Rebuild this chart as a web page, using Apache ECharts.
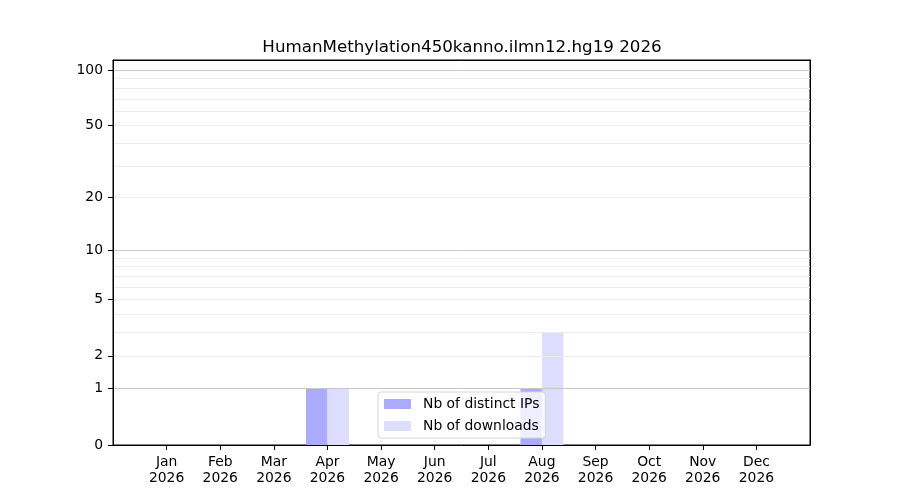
<!DOCTYPE html>
<html>
<head>
<meta charset="utf-8">
<script src="https://cdn.jsdelivr.net/npm/echarts@6/dist/echarts.min.js"></script>
<style>
  html, body { margin: 0; padding: 0; background: #fff; }
  #mainChart { width: 900px; height: 500px; }
</style>
</head>
<body>
<div id="mainChart"></div>
<script>
// values
var months = ['Jan', 'Feb', 'Mar', 'Apr', 'May', 'Jun', 'Jul', 'Aug', 'Sep', 'Oct', 'Nov', 'Dec'];
var year = '2026';
var ipsValues = [0, 0, 0, 1, 0, 0, 0, 1, 0, 0, 0, 0];
var downloadsValues = [0, 0, 0, 1, 0, 0, 0, 3, 0, 0, 0, 0];
var legends = ['Nb of distinct IPs', 'Nb of downloads'];
var yTickValues = [0, 1, 2, 5, 10, 20, 50, 100];
var yMajorGrid = [1, 10, 100];
var yMinorGrid = [2, 3, 4, 5, 6, 7, 8, 9, 20, 30, 40, 50, 60, 70, 80, 90];
var yTop = 113.5;

// y scale is log10(1 + v)
function fwd(v) { return Math.log10(1 + v); }
function back(t) { return Math.round(Math.pow(10, t) - 1); }

var font = 'DejaVu Sans';
var tMax = fwd(yTop);
var monthIdx = months.map(function (m, i) { return i; });
var spine = {show: true, onZero: false, lineStyle: {color: '#000', width: 1}};

function toPoints(values) {
    return values.map(function (v, i) { return [i, fwd(v)]; });
}

function gridAxis(values, color) {
    return {
        type: 'value',
        position: 'left',
        min: 0,
        max: tMax,
        z: 3,
        axisLine: {show: false, onZero: false},
        axisLabel: {show: false},
        axisTick: {show: false, customValues: values.map(fwd)},
        splitLine: {show: true, showMinLine: true, showMaxLine: true, lineStyle: {color: color, width: 1}}
    };
}

var myChart = echarts.init(document.getElementById('mainChart'));
myChart.setOption({
    animation: false,
    textStyle: {fontFamily: font},
    title: {
        text: 'HumanMethylation450kanno.ilmn12.hg19 ' + year,
        left: 457,
        textAlign: 'center',
        top: 34,
        textStyle: {fontFamily: font, fontSize: 16.7, fontWeight: 'normal', color: '#000'}
    },
    grid: {
        left: 113, right: 90, top: 60, bottom: 55,
        show: true, borderColor: '#000', borderWidth: 1, backgroundColor: '#fff'
    },
    legend: {
        data: legends,
        orient: 'vertical',
        left: 378,
        top: 392,
        itemWidth: 27,
        itemHeight: 10,
        itemGap: 8,
        padding: [5, 6, 5, 6],
        backgroundColor: 'rgba(255,255,255,0.8)',
        borderColor: '#d5d5d5',
        borderWidth: 1,
        borderRadius: 3,
        icon: 'rect',
        textStyle: {fontFamily: font, fontSize: 13.9, color: '#000', padding: [0, 0, 0, 7]}
    },
    xAxis: [{
        type: 'value',
        min: -1,
        max: 12,
        z: 4,
        axisLine: spine,
        axisTick: {show: true, length: 5, customValues: monthIdx, lineStyle: {color: '#000', width: 1}},
        axisLabel: {
            customValues: monthIdx,
            margin: 9,
            lineHeight: 16,
            fontFamily: font,
            fontSize: 13.9,
            color: '#000',
            formatter: function (v) { return months[v] + '\n' + year; }
        },
        splitLine: {show: false}
    }, {
        type: 'value',
        position: 'top',
        min: -1,
        max: 12,
        z: 4,
        axisLine: spine,
        axisTick: {show: false},
        axisLabel: {show: false},
        splitLine: {show: false}
    }],
    yAxis: [{
        type: 'value',
        position: 'left',
        min: 0,
        max: tMax,
        z: 4,
        axisLine: spine,
        axisTick: {show: true, length: 5, customValues: yTickValues.map(fwd), lineStyle: {color: '#000', width: 1}},
        axisLabel: {
            customValues: yTickValues.map(fwd),
            margin: 10,
            padding: [3, 0, 0, 0],
            fontFamily: font,
            fontSize: 13.9,
            color: '#000',
            formatter: function (t) { return String(back(t)); }
        },
        splitLine: {show: false}
    },
        gridAxis(yMinorGrid, '#ececec'),
        gridAxis(yMajorGrid, '#c8c8c8'),
    {
        type: 'value',
        position: 'right',
        min: 0,
        max: tMax,
        z: 4,
        axisLine: spine,
        axisTick: {show: false},
        axisLabel: {show: false},
        splitLine: {show: false}
    }],
    series: [{
        name: legends[0],
        type: 'bar',
        barWidth: 21.5,
        barGap: '0%',
        itemStyle: {color: '#aaaaff'},
        data: toPoints(ipsValues)
    }, {
        name: legends[1],
        type: 'bar',
        barWidth: 21.5,
        barGap: '0%',
        itemStyle: {color: '#ddddff'},
        data: toPoints(downloadsValues)
    }]
});
</script>
</body>
</html>
